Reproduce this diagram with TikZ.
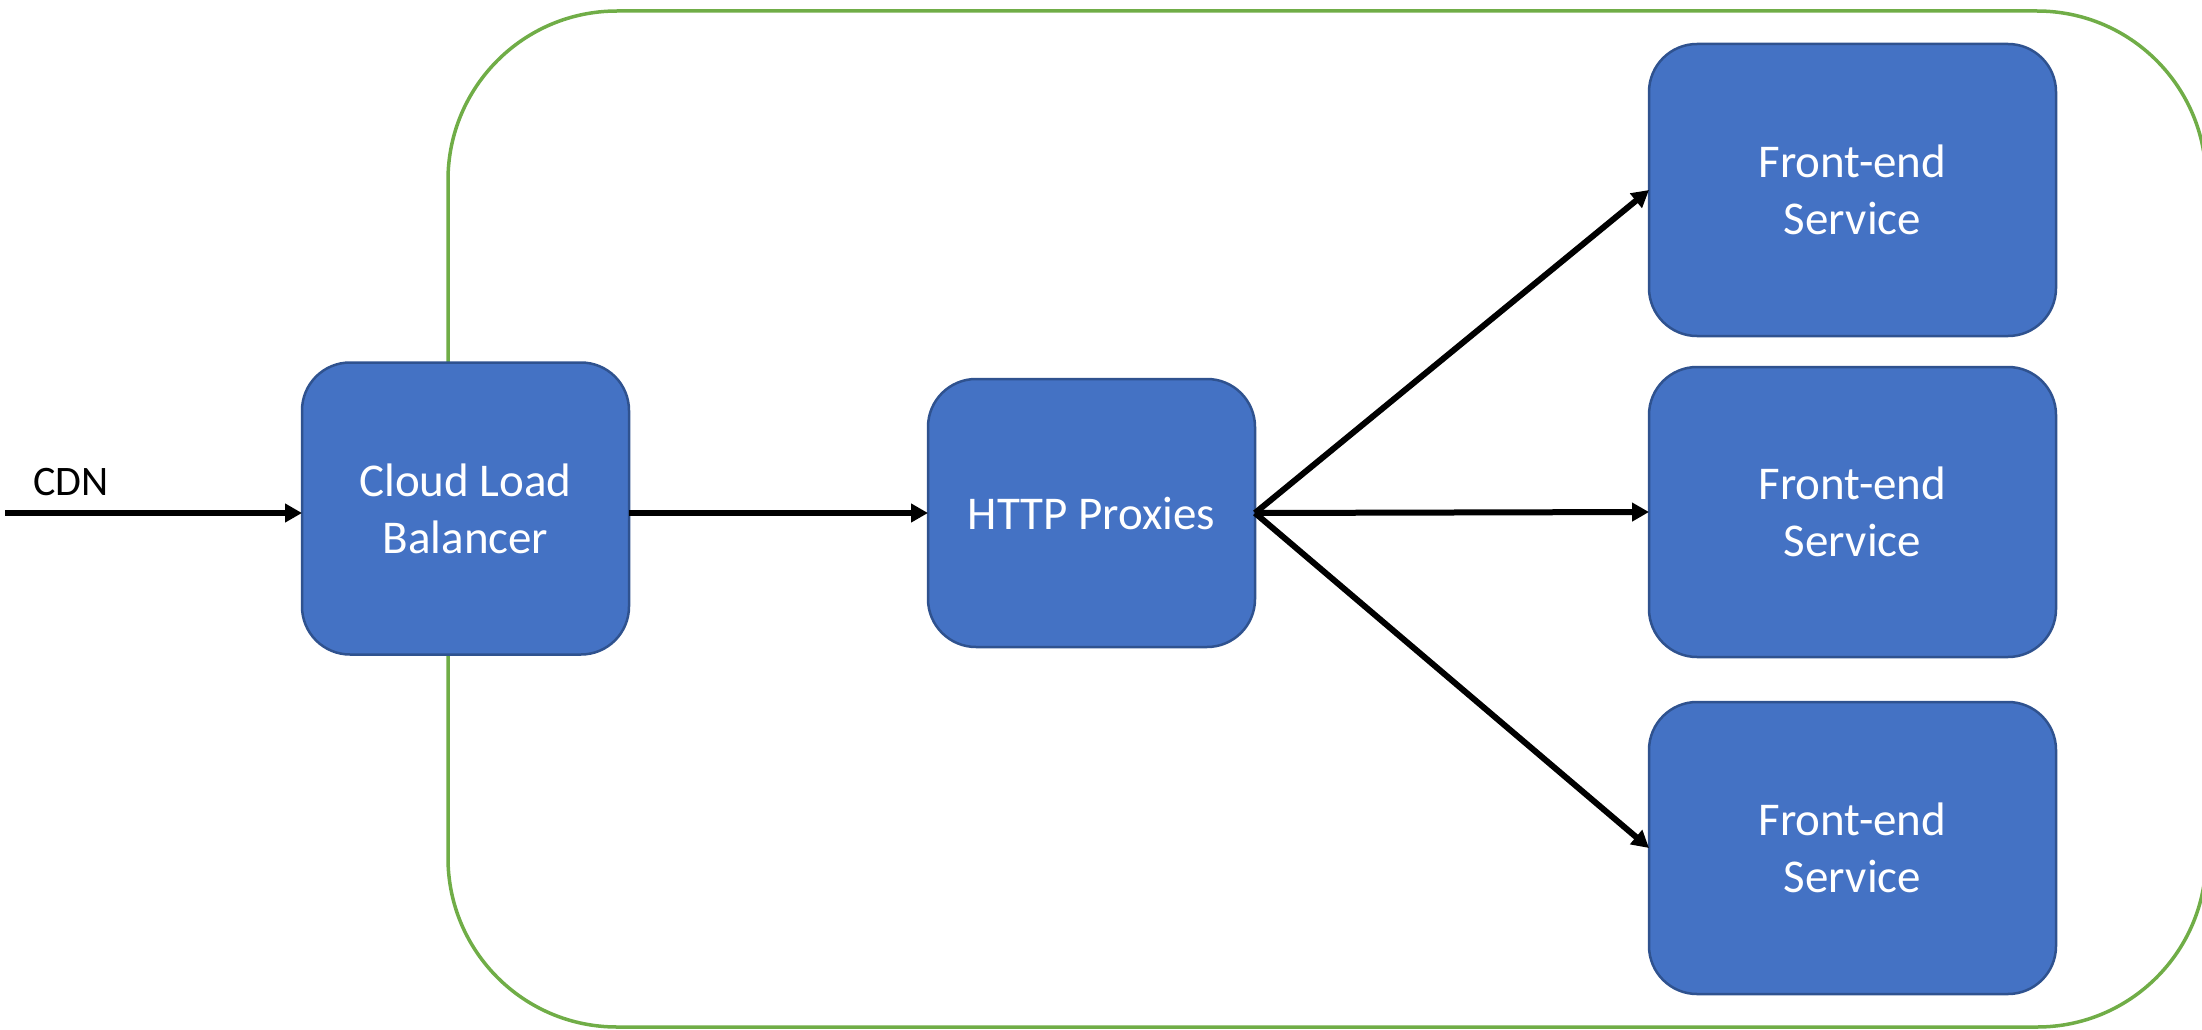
\documentclass[tikz,border=0pt]{standalone}
\usepackage{fontspec}
\setmainfont{Carlito}
\usetikzlibrary{arrows.meta}
\definecolor{boxfill}{HTML}{4472C4}
\definecolor{boxline}{HTML}{2F528F}
\definecolor{zonegreen}{HTML}{70AD47}
\tikzset{
  bluebox/.style={draw=boxline, line width=2.5pt, fill=boxfill, rounded corners=48pt,
    inner sep=0pt, outer sep=0pt, align=center, text=white,
    font=\fontsize{47}{57}\selectfont},
  flowarrow/.style={draw=black, line width=6pt,
    -{Triangle[length=17pt,width=18pt]}},
  zone/.style={draw=zonegreen, line width=3.5pt, rounded corners=169pt}
}
\begin{document}
\begin{tikzpicture}[x=1pt,y=-1pt]
\useasboundingbox (0,0) rectangle (2202,1030);
\draw[zone] (448,11) rectangle (2206,1027);

\node[bluebox, minimum width=327pt, minimum height=292pt] (clb) at (465.5,508.5) {Cloud Load\\Balancer};
\node[bluebox, minimum width=327pt, minimum height=268pt] (http) at (1091.5,513) {HTTP Proxies};
\node[bluebox, minimum width=407pt, minimum height=292pt] (fe1) at (1852.5,190) {Front-end\\Service};
\node[bluebox, minimum width=407pt, minimum height=290pt] (fe2) at (1852.5,512) {Front-end\\Service};
\node[bluebox, minimum width=407pt, minimum height=292pt] (fe3) at (1852.5,848) {Front-end\\Service};

\node[anchor=base west, inner sep=0pt, font=\fontsize{42}{50}\selectfont] (cdnlabel) at (33,495) {CDN};
\coordinate (cdnstart) at (5,513);

\draw[flowarrow] (cdnstart) -- (cdnstart -| clb.west);
\draw[flowarrow] (clb.east |- http.west) -- (http.west);
\draw[flowarrow] (http.east) -- (fe1.west);
\draw[flowarrow] (http.east) -- (fe2.west);
\draw[flowarrow] (http.east) -- (fe3.west);
\end{tikzpicture}
\end{document}
